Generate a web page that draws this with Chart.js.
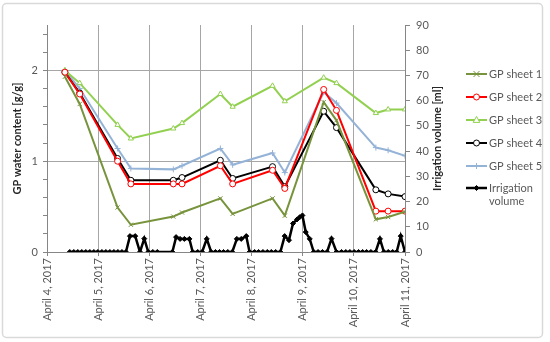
<!DOCTYPE html>
<html>
<head>
<meta charset="utf-8">
<script src="https://cdn.jsdelivr.net/npm/chart.js@4/dist/chart.umd.min.js"></script>
<style>
    html, body { margin: 0; padding: 0; background: #fff; }
    canvas { display: block; }
</style>
</head>
<body>
<canvas id="gpChart" width="550" height="342"></canvas>
<script>
// x values are days after April 4, 2017 00:00
var dayLabels = ['April 4, 2017', 'April 5, 2017', 'April 6, 2017', 'April 7, 2017',
    'April 8, 2017', 'April 9, 2017', 'April 10, 2017', 'April 11, 2017'];

var gpDays = [0.35, 0.64, 1.38, 1.64, 2.47, 2.64, 3.39, 3.63, 4.41, 4.65, 5.41, 5.66, 6.43, 6.67, 7.0];
var gpSheet1 = [1.93, 1.63, 0.49, 0.30, 0.39, 0.435, 0.59, 0.42, 0.59, 0.40, 1.65, 1.45, 0.36, 0.385, 0.445];
var gpSheet2 = [1.98, 1.74, 1.00, 0.75, 0.75, 0.75, 0.95, 0.75, 0.90, 0.70, 1.79, 1.56, 0.45, 0.45, 0.45];
var gpSheet3 = [2.00, 1.86, 1.40, 1.25, 1.36, 1.42, 1.74, 1.60, 1.83, 1.66, 1.92, 1.86, 1.53, 1.57, 1.57];
var gpSheet4 = [1.98, 1.75, 1.03, 0.79, 0.79, 0.82, 1.01, 0.81, 0.94, 0.72, 1.55, 1.37, 0.685, 0.64, 0.61];
var gpSheet5 = [2.00, 1.80, 1.14, 0.92, 0.91, 0.95, 1.14, 0.96, 1.09, 0.875, 1.76, 1.64, 1.15, 1.12, 1.06];

var irrDays = [0.445, 0.524, 0.602, 0.680, 0.759, 0.837, 0.916, 0.994, 1.073, 1.151, 1.229, 1.308, 1.386, 1.465, 1.543,
    1.622, 1.725, 1.818, 1.902, 1.980, 2.069, 2.157, 2.451, 2.524, 2.602, 2.686, 2.784, 2.849, 2.947, 3.033,
    3.124, 3.210, 3.294, 3.373, 3.451, 3.535, 3.622, 3.712, 3.798, 3.896, 3.961, 4.059, 4.137, 4.222, 4.308,
    4.386, 4.471, 4.563, 4.647, 4.731, 4.810, 4.888, 4.941, 4.994, 5.059, 5.137, 5.216, 5.300, 5.386, 5.476,
    5.563, 5.661, 5.759, 5.843, 5.922, 6.006, 6.092, 6.171, 6.249, 6.333, 6.425, 6.510, 6.588, 6.673, 6.759,
    6.837, 6.916, 7.0];
var irrVolume = [0, 0, 0, 0, 0, 0, 0, 0, 0, 0, 0, 0, 0, 0, 0,
    6.3, 6.3, 0, 5.3, 0, 0, 0, 0, 5.9, 5.2, 5.2, 5.2, 0, 0, 0,
    5.2, 0, 0, 0, 0, 0, 0, 5.2, 5.2, 6.3, 0, 0, 0, 0, 0,
    0, 0, 0, 6.3, 4.7, 11.3, 12.9, 13.8, 14.5, 7.9, 5.2, 0, 0, 0, 0,
    5.3, 0, 0, 0, 0, 0, 0, 0, 0, 0, 0, 5.2, 0, 0, 0,
    0, 6.3, 0];

function pairs(xs, ys) {
    return xs.map(function (x, i) { return { x: x, y: ys[i] }; });
}

function gpSet(label, values, color, style) {
    return {
        label: label,
        data: pairs(gpDays, values),
        yAxisID: 'y',
        borderColor: color,
        backgroundColor: '#fff',
        borderWidth: 2,
        pointStyle: style,
        pointRadius: 3,
        pointBorderWidth: 1,
        pointBorderColor: color,
        pointBackgroundColor: '#fff'
    };
}

var FONT = 'Lato, "Liberation Sans", sans-serif';
var GRID = '#a6a6a6';
var AXIS = '#868686';
var TEXT = '#595959';

var datasets = [
    gpSet('GP sheet 1', gpSheet1, '#77933C', 'crossRot'),
    gpSet('GP sheet 2', gpSheet2, '#FF0000', 'circle'),
    gpSet('GP sheet 3', gpSheet3, '#92D050', 'triangle'),
    gpSet('GP sheet 4', gpSheet4, '#000000', 'circle'),
    gpSet('GP sheet 5', gpSheet5, '#95B3D7', 'cross'),
    {
        label: 'Irrigation volume',
        data: pairs(irrDays, irrVolume),
        yAxisID: 'y2',
        borderColor: '#000',
        backgroundColor: '#000',
        borderWidth: 2.5,
        pointStyle: 'rectRot',
        pointRadius: 2.5,
        pointBorderWidth: 1,
        pointBorderColor: '#000',
        pointBackgroundColor: '#000'
    }
];

function drawMarker(ctx, style, x, y, r, color, fill) {
    ctx.save();
    ctx.strokeStyle = color;
    ctx.fillStyle = fill;
    ctx.lineWidth = 1;
    ctx.beginPath();
    if (style === 'circle') {
        ctx.arc(x, y, r, 0, Math.PI * 2);
        ctx.fill(); ctx.stroke();
    } else if (style === 'triangle') {
        ctx.moveTo(x, y - r * 1.2);
        ctx.lineTo(x + r * 1.1, y + r * 0.8);
        ctx.lineTo(x - r * 1.1, y + r * 0.8);
        ctx.closePath();
        ctx.fill(); ctx.stroke();
    } else if (style === 'crossRot') {
        ctx.moveTo(x - r, y - r); ctx.lineTo(x + r, y + r);
        ctx.moveTo(x + r, y - r); ctx.lineTo(x - r, y + r);
        ctx.stroke();
    } else if (style === 'cross') {
        ctx.moveTo(x - r, y); ctx.lineTo(x + r, y);
        ctx.moveTo(x, y - r); ctx.lineTo(x, y + r);
        ctx.stroke();
    } else if (style === 'rectRot') {
        ctx.moveTo(x, y - r); ctx.lineTo(x + r, y); ctx.lineTo(x, y + r); ctx.lineTo(x - r, y);
        ctx.closePath();
        ctx.fill(); ctx.stroke();
    }
    ctx.restore();
}

// frame, axis titles and the Excel-like legend
var decorations = {
    id: 'decorations',
    beforeDraw: function (chart) {
        var ctx = chart.ctx;
        ctx.save();
        ctx.fillStyle = '#fff';
        ctx.fillRect(0, 0, chart.width, chart.height);
        ctx.strokeStyle = '#d9d9d9';
        ctx.lineWidth = 1.5;
        ctx.beginPath();
        ctx.roundRect(2.5, 3.5, 540, 334, 4);
        ctx.stroke();
        ctx.restore();
    },
    afterDraw: function (chart) {
        var ctx = chart.ctx;
        var area = chart.chartArea;
        var midY = (area.top + area.bottom) / 2;
        ctx.save();
        ctx.fillStyle = '#262626';
        ctx.font = 'bold 11px ' + FONT;
        ctx.textAlign = 'center';
        ctx.textBaseline = 'middle';
        [[17, 'GP water content [g/g]'], [437, 'Irrigation volume [ml]']].forEach(function (t) {
            ctx.save();
            ctx.translate(t[0], midY);
            ctx.rotate(-Math.PI / 2);
            ctx.fillText(t[1], 0, 0);
            ctx.restore();
        });

        var rows = [74, 97, 120, 143, 166, 188];
        ctx.font = '11px ' + FONT;
        ctx.textAlign = 'left';
        chart.data.datasets.forEach(function (ds, i) {
            var y = rows[i];
            ctx.strokeStyle = ds.borderColor;
            ctx.lineWidth = ds.borderWidth;
            ctx.beginPath();
            ctx.moveTo(466, y);
            ctx.lineTo(487, y);
            ctx.stroke();
            drawMarker(ctx, ds.pointStyle, 476.5, y, ds.pointRadius, ds.pointBorderColor, ds.pointBackgroundColor);
            ctx.fillStyle = TEXT;
            var words = ds.label === 'Irrigation volume' ? ['Irrigation', 'volume'] : [ds.label];
            words.forEach(function (w, k) { ctx.fillText(w, 489, y + k * 13); });
        });
        ctx.restore();
    }
};

new Chart(document.getElementById('gpChart'), {
    type: 'line',
    data: { datasets: datasets },
    options: {
        responsive: false,
        animation: false,
        devicePixelRatio: 1,
        layout: { padding: { left: 0, top: 25, right: 100, bottom: 5 } },
        plugins: { legend: { display: false }, tooltip: { enabled: false } },
        elements: { line: { tension: 0 } },
        scales: {
            x: {
                type: 'linear',
                min: 0,
                max: 7,
                afterFit: function (s) { s.height = 85; },
                border: { color: AXIS, width: 1 },
                grid: { color: GRID, tickColor: AXIS, tickLength: 4 },
                ticks: {
                    stepSize: 1,
                    autoSkip: false,
                    maxRotation: 90,
                    minRotation: 90,
                    padding: 2,
                    color: TEXT,
                    font: { family: FONT, size: 11 },
                    callback: function (v) { return dayLabels[v] || ''; }
                }
            },
            y: {
                position: 'left',
                min: 0,
                max: 2.5,
                afterFit: function (s) { s.width = 47; },
                border: { color: AXIS, width: 1 },
                grid: {
                    color: function (c) {
                        var v = c.tick ? c.tick.value : 0;
                        return (v > 0 && Math.abs(v - Math.round(v)) < 1e-6) ? GRID : 'rgba(0,0,0,0)';
                    },
                    tickColor: AXIS,
                    tickLength: 4
                },
                ticks: {
                    stepSize: 0.2,
                    includeBounds: false,
                    autoSkip: false,
                    padding: 5,
                    color: TEXT,
                    font: { family: FONT, size: 11 },
                    callback: function (v) {
                        return Math.abs(v - Math.round(v)) < 1e-6 ? String(Math.round(v)) : '';
                    }
                }
            },
            y2: {
                position: 'right',
                min: 0,
                max: 90,
                afterFit: function (s) { s.width = 45; },
                border: { color: AXIS, width: 1 },
                grid: { drawOnChartArea: false, tickColor: AXIS, tickLength: 5 },
                ticks: {
                    stepSize: 10,
                    padding: 6,
                    color: TEXT,
                    font: { family: FONT, size: 11 }
                }
            }
        }
    },
    plugins: [decorations]
});
</script>
</body>
</html>
